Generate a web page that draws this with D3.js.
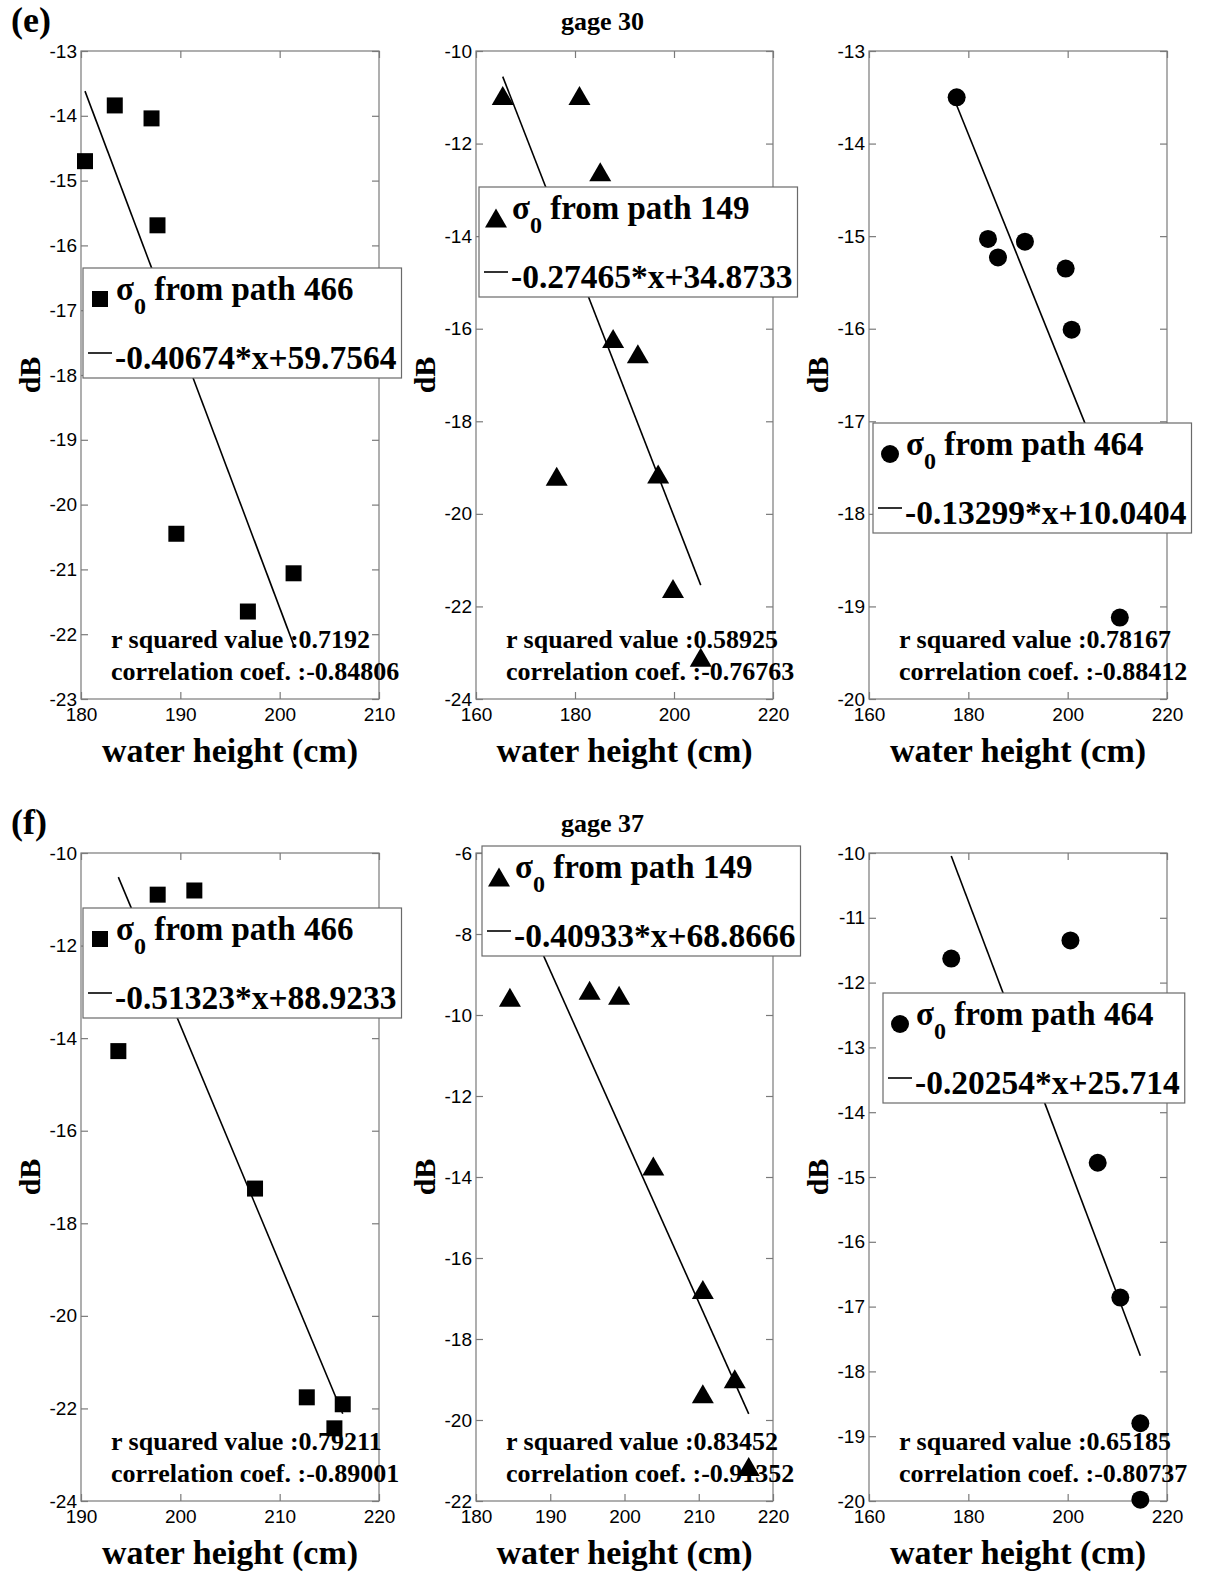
<!DOCTYPE html>
<html>
<head>
<meta charset="utf-8">
<script src="https://cdn.jsdelivr.net/npm/d3@7"></script>
<style>
  body { margin: 0; background: #fff; }
  svg { display: block; }
</style>
</head>
<body>
<svg id="fig" width="1205" height="1576"></svg>
<script>
// Backscatter sigma0 (dB) against water height at two gauges,
// one scatter + linear fit per satellite path.

const rowLabels = ["(e)", "(f)"];
const gageTitles = ["gage 30", "gage 37"];
const pathIds = [466, 149, 464];
const markerShapes = ["square", "triangle", "circle"];

// ---- gage 30 ----
const g30_p466_height = [180.4, 183.4, 187.1, 187.7, 189.6, 196.8, 201.4];
const g30_p466_dB     = [-14.70, -13.84, -14.04, -15.69, -20.45, -21.65, -21.06];
const g30_p149_height = [165.4, 180.9, 185.1, 187.7, 192.7, 176.3, 196.8, 199.8, 205.4];
const g30_p149_dB     = [-10.96, -10.96, -12.61, -16.21, -16.54, -19.19, -19.14, -21.61, -23.10];
const g30_p464_height = [177.65, 183.96, 185.97, 191.4, 199.6, 200.8, 210.5];
const g30_p464_dB     = [-13.50, -15.03, -15.23, -15.06, -15.35, -16.01, -19.12];

// ---- gage 37 ----
const g37_p466_height = [193.76, 197.72, 201.41, 207.52, 212.73, 215.51, 216.35];
const g37_p466_dB     = [-14.28, -10.90, -10.81, -17.25, -21.76, -22.43, -21.91];
const g37_p149_height = [184.57, 195.3, 199.27, 203.88, 210.55, 210.55, 214.85, 216.73];
const g37_p149_dB     = [-9.56, -9.39, -9.51, -13.73, -16.78, -19.35, -18.98, -21.15];
const g37_p464_height = [176.56, 200.56, 206.05, 210.6, 214.63, 214.63];
const g37_p464_dB     = [-11.63, -11.35, -14.78, -16.86, -18.80, -19.98];

// Linear fit coefficients (slope, intercept) and fit statistics
const fitSlope     = [[-0.40674, -0.27465, -0.13299], [-0.51323, -0.40933, -0.20254]];
const fitIntercept = [[59.7564, 34.8733, 10.0404],   [88.9233, 68.8666, 25.714]];
const fitSlopeText     = [["-0.40674", "-0.27465", "-0.13299"], ["-0.51323", "-0.40933", "-0.20254"]];
const fitInterceptText = [["59.7564", "34.8733", "10.0404"],    ["88.9233", "68.8666", "25.714"]];
const rSquared = [["0.7192", "0.58925", "0.78167"], ["0.79211", "0.83452", "0.65185"]];
const corrCoef = [["-0.84806", "-0.76763", "-0.88412"], ["-0.89001", "-0.91352", "-0.80737"]];

// Axis tick values
const xTicks = [
  [[180, 190, 200, 210], [160, 180, 200, 220], [160, 180, 200, 220]],
  [[190, 200, 210, 220], [180, 190, 200, 210, 220], [160, 180, 200, 220]]
];
const yTicks = [
  [d3.range(-23, -12, 1), d3.range(-24, -9, 2), d3.range(-20, -12, 1)],
  [d3.range(-24, -9, 2), d3.range(-22, -5, 2), d3.range(-20, -9, 1)]
];

const heights = [[g30_p466_height, g30_p149_height, g30_p464_height],
                 [g37_p466_height, g37_p149_height, g37_p464_height]];
const sigmas  = [[g30_p466_dB, g30_p149_dB, g30_p464_dB],
                 [g37_p466_dB, g37_p149_dB, g37_p464_dB]];

// ---- layout ----
const colLeft = [81, 476, 869];
const colRight = [379, 773, 1167];
const rowTop = [51, 853];
const rowBottom = [699, 1501];
// legend box top-left corner, relative to the axes' top-left corner
const legendOffset = [
  [[2, 217], [3, 136], [4, 372]],
  [[2, 55], [6, -7], [14, 140]]
];

const SERIF = "'Liberation Serif','Times New Roman',Times,serif";
const SANS = "'Liberation Sans',Arial,Helvetica,sans-serif";
const BOX = "#7a7a7a";

const svg = d3.select("#fig");

function drawMarker(sel, shape) {
  if (shape === "circle") {
    sel.append("circle").attr("r", 9).attr("fill", "#000");
  } else if (shape === "square") {
    sel.append("path").attr("d", "M-8,-8h16v16h-16z").attr("fill", "#000");
  } else {
    sel.append("path").attr("d", "M0,-9.5L11,9.5L-11,9.5Z").attr("fill", "#000");
  }
}

rowLabels.forEach((lab, r) => {
  svg.append("text")
    .attr("x", 11).attr("y", rowTop[r] - 19)
    .attr("font-family", SERIF).attr("font-weight", "bold").attr("font-size", 36)
    .text(lab);
  svg.append("text")
    .attr("x", 602.5).attr("y", rowTop[r] - 21)
    .attr("text-anchor", "middle")
    .attr("font-family", SERIF).attr("font-weight", "bold").attr("font-size", 26)
    .text(gageTitles[r]);
});

for (let r = 0; r < 2; r++) {
  for (let c = 0; c < 3; c++) {
    const left = colLeft[c], right = colRight[c], top = rowTop[r], bottom = rowBottom[r];
    const xt = xTicks[r][c], yt = yTicks[r][c];
    const x = d3.scaleLinear().domain(d3.extent(xt)).range([left, right]);
    const y = d3.scaleLinear().domain(d3.extent(yt)).range([bottom, top]);
    const g = svg.append("g");

    // axes box
    g.append("rect")
      .attr("x", left).attr("y", top)
      .attr("width", right - left).attr("height", bottom - top)
      .attr("fill", "none").attr("stroke", BOX).attr("stroke-width", 1.2);

    const styleAxis = sel => {
      sel.select(".domain").remove();
      sel.attr("font-family", SANS).attr("font-size", 19);
      sel.selectAll(".tick line").attr("stroke", BOX).attr("stroke-width", 1.2);
      sel.selectAll(".tick text").attr("fill", "#000");
    };

    g.append("g").attr("transform", `translate(0,${bottom})`)
      .call(d3.axisBottom(x).tickValues(xt).tickSize(-7).tickSizeOuter(0)
        .tickPadding(9).tickFormat(d => String(d)))
      .call(styleAxis);
    g.append("g").attr("transform", `translate(0,${top})`)
      .call(d3.axisTop(x).tickValues(xt).tickSize(-7).tickSizeOuter(0).tickFormat(""))
      .call(styleAxis);
    g.append("g").attr("transform", `translate(${left},0)`)
      .call(d3.axisLeft(y).tickValues(yt).tickSize(-7).tickSizeOuter(0)
        .tickPadding(4).tickFormat(d => String(d)))
      .call(styleAxis);
    g.append("g").attr("transform", `translate(${right},0)`)
      .call(d3.axisRight(y).tickValues(yt).tickSize(-7).tickSizeOuter(0).tickFormat(""))
      .call(styleAxis);

    // axis titles
    g.append("text")
      .attr("x", (left + right) / 2).attr("y", bottom + 63)
      .attr("text-anchor", "middle")
      .attr("font-family", SERIF).attr("font-weight", "bold").attr("font-size", 34)
      .text("water height (cm)");
    g.append("text")
      .attr("transform", `translate(${left - 52},${(top + bottom) / 2}) rotate(-90)`)
      .attr("text-anchor", "middle").attr("dy", "0.35em")
      .attr("font-family", SERIF).attr("font-weight", "bold").attr("font-size", 30)
      .text("dB");

    // scatter
    const pts = heights[r][c].map((h, i) => ({ h, s: sigmas[r][c][i] }));
    g.selectAll("g.pt").data(pts).join("g")
      .attr("class", "pt")
      .attr("transform", d => `translate(${x(d.h)},${y(d.s)})`)
      .each(function () { drawMarker(d3.select(this), markerShapes[c]); });

    // fitted line over the observed height range
    const a = fitSlope[r][c], b = fitIntercept[r][c];
    const ext = d3.extent(heights[r][c]);
    g.append("path")
      .datum(ext.map(h => ({ h, s: a * h + b })))
      .attr("d", d3.line().x(d => x(d.h)).y(d => y(d.s)))
      .attr("fill", "none").attr("stroke", "#000").attr("stroke-width", 1.6);

    // legend
    const lg = g.append("g")
      .attr("transform", `translate(${left + legendOffset[r][c][0]},${top + legendOffset[r][c][1]})`);
    const box = lg.append("rect").attr("fill", "#fff").attr("stroke", "#6a6a6a").attr("stroke-width", 1.2);
    drawMarker(lg.append("g").attr("transform", "translate(17,31)"), markerShapes[c]);
    const t1 = lg.append("text")
      .attr("x", 33).attr("y", 32)
      .attr("font-family", SERIF).attr("font-weight", "bold").attr("font-size", 33);
    t1.append("tspan").text("σ");
    t1.append("tspan").attr("font-size", 24).attr("dy", 14).text("0");
    t1.append("tspan").attr("dy", -14).text(" from path " + pathIds[c]);
    lg.append("line").attr("x1", 5).attr("x2", 29).attr("y1", 85).attr("y2", 85)
      .attr("stroke", "#000").attr("stroke-width", 1.6);
    const t2 = lg.append("text")
      .attr("x", 32).attr("y", 101)
      .attr("font-family", SERIF).attr("font-weight", "bold").attr("font-size", 33.5)
      .text(fitSlopeText[r][c] + "*x+" + fitInterceptText[r][c]);
    const w = Math.max(t1.node().getComputedTextLength(), t2.node().getComputedTextLength());
    box.attr("x", 0).attr("y", 0).attr("width", 32 + w + 5).attr("height", 110);

    // fit statistics
    const st = g.append("g")
      .attr("font-family", SERIF).attr("font-weight", "bold").attr("font-size", 26);
    st.append("text").attr("x", left + 30).attr("y", bottom - 51)
      .text("r squared value :" + rSquared[r][c]);
    st.append("text").attr("x", left + 30).attr("y", bottom - 19)
      .text("correlation coef. :" + corrCoef[r][c]);
  }
}
</script>
</body>
</html>
